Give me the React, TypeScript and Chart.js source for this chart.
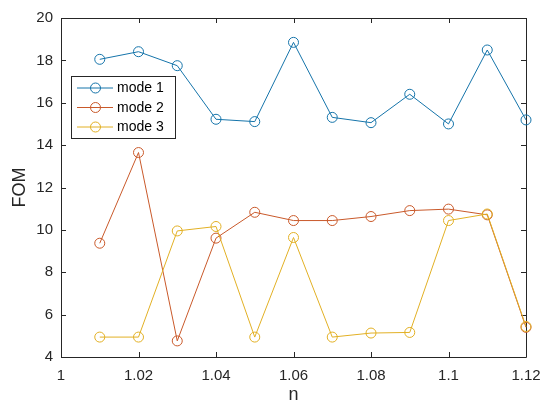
import { useEffect, useRef } from 'react';
import { Chart, registerables } from 'chart.js';

Chart.register(...registerables);

// Refractive index sweep and figure of merit per mode
const nValues = [1.01, 1.02, 1.03, 1.04, 1.05, 1.06, 1.07, 1.08, 1.09, 1.1, 1.11, 1.12];
const mode1 = [18.05, 18.41, 17.75, 15.22, 15.11, 18.85, 15.31, 15.06, 16.4, 15.0, 18.49, 15.19];
const mode2 = [9.37, 13.65, 4.76, 9.61, 10.83, 10.44, 10.44, 10.63, 10.91, 10.98, 10.71, 5.4];
const mode3 = [4.94, 4.94, 9.95, 10.16, 4.94, 9.64, 4.94, 5.13, 5.16, 10.44, 10.75, 5.44];

const seriesNames = ['mode 1', 'mode 2', 'mode 3'];
const seriesColors = ['#1574aa', '#c9592a', '#e2b024'];

const xTicks = [1, 1.02, 1.04, 1.06, 1.08, 1.1, 1.12];
const yTicks = [4, 6, 8, 10, 12, 14, 16, 18, 20];
const xTitle = 'n';
const yTitle = 'FOM';

const FONT = '"Liberation Sans", Arial, Helvetica, sans-serif';
const AXIS_COLOR = '#262626';

// Box around the axes with inward tick marks on all four sides
const axesFrame = {
  id: 'axesFrame',
  beforeDatasetsDraw(chart: any) {
    const { ctx, chartArea } = chart;
    const { left, right, top, bottom } = chartArea;
    const xs = chart.scales.x;
    const ys = chart.scales.y;
    const tl = 5;
    ctx.save();
    ctx.strokeStyle = AXIS_COLOR;
    ctx.lineWidth = 1;
    ctx.beginPath();
    ctx.rect(Math.round(left) + 0.5, Math.round(top) + 0.5, Math.round(right - left), Math.round(bottom - top));
    for (const v of xTicks) {
      const px = Math.round(xs.getPixelForValue(v)) + 0.5;
      ctx.moveTo(px, bottom);
      ctx.lineTo(px, bottom - tl);
      ctx.moveTo(px, top);
      ctx.lineTo(px, top + tl);
    }
    for (const v of yTicks) {
      const py = Math.round(ys.getPixelForValue(v)) + 0.5;
      ctx.moveTo(left, py);
      ctx.lineTo(left + tl, py);
      ctx.moveTo(right, py);
      ctx.lineTo(right - tl, py);
    }
    ctx.stroke();
    ctx.restore();
  },
};

// Legend box placed inside the upper-left part of the axes
const insideLegend = {
  id: 'insideLegend',
  afterDraw(chart: any) {
    const { ctx } = chart;
    const boxL = 71;
    const boxT = 76;
    const boxW = 104;
    const boxH = 62;
    const rowH = 19.5;
    ctx.save();
    ctx.fillStyle = '#ffffff';
    ctx.fillRect(boxL, boxT, boxW, boxH);
    ctx.strokeStyle = AXIS_COLOR;
    ctx.lineWidth = 1;
    ctx.strokeRect(boxL + 0.5, boxT + 0.5, boxW, boxH);
    chart.data.datasets.forEach((ds: any, i: number) => {
      const y = boxT + 12 + i * rowH;
      ctx.strokeStyle = ds.borderColor;
      ctx.lineWidth = 1;
      ctx.beginPath();
      ctx.moveTo(77, y);
      ctx.lineTo(113, y);
      ctx.stroke();
      ctx.beginPath();
      ctx.arc(95.5, y, 5, 0, Math.PI * 2);
      ctx.stroke();
      ctx.fillStyle = '#000000';
      ctx.font = `14px ${FONT}`;
      ctx.textAlign = 'left';
      ctx.textBaseline = 'middle';
      ctx.fillText(ds.label, 117, y + 0.5);
    });
    ctx.restore();
  },
};

export default function App() {
  const canvasRef = useRef<HTMLCanvasElement | null>(null);

  useEffect(() => {
    document.body.style.margin = '0';
    const canvas = canvasRef.current;
    if (!canvas) return;

    const series = [mode1, mode2, mode3];
    const datasets = series.map((vals, i) => ({
      label: seriesNames[i],
      data: nValues.map((n, k) => ({ x: n, y: vals[k] })),
      borderColor: seriesColors[i],
      backgroundColor: 'rgba(0,0,0,0)',
      pointBackgroundColor: 'rgba(0,0,0,0)',
      pointBorderColor: seriesColors[i],
      pointBorderWidth: 1,
      pointRadius: 5,
      pointStyle: 'circle',
      borderWidth: 1,
      tension: 0,
      fill: false,
      clip: false as any,
      order: 3 - i,
    }));

    const chart = new Chart(canvas, {
      type: 'line',
      data: { datasets },
      plugins: [axesFrame, insideLegend],
      options: {
        animation: false,
        responsive: false,
        devicePixelRatio: 1,
        layout: { padding: { top: 18, right: 16, left: 0, bottom: 0 } },
        plugins: {
          legend: { display: false },
          tooltip: { enabled: false },
        },
        scales: {
          x: {
            type: 'linear',
            min: 1,
            max: 1.12,
            afterBuildTicks: (scale: any) => {
              scale.ticks = xTicks.map((v) => ({ value: v }));
            },
            afterFit: (scale: any) => {
              scale.height = 45;
              scale.paddingLeft = 0;
              scale.paddingRight = 0;
            },
            grid: { display: false, drawTicks: false },
            border: { display: false },
            ticks: {
              padding: 10,
              autoSkip: false,
              maxRotation: 0,
              color: AXIS_COLOR,
              font: { family: FONT, size: 15 },
              callback: (v: any) => String(Number(Number(v).toFixed(2))),
            },
            title: {
              display: true,
              text: xTitle,
              color: AXIS_COLOR,
              font: { family: FONT, size: 18, lineHeight: 1 },
              padding: { top: 0, bottom: -2 },
            },
          },
          y: {
            type: 'linear',
            min: 4,
            max: 20,
            afterBuildTicks: (scale: any) => {
              scale.ticks = yTicks.map((v) => ({ value: v }));
            },
            afterFit: (scale: any) => {
              scale.width = 61;
              scale.paddingTop = 0;
              scale.paddingBottom = 0;
            },
            grid: { display: false, drawTicks: false },
            border: { display: false },
            ticks: {
              padding: 8,
              color: AXIS_COLOR,
              font: { family: FONT, size: 15 },
            },
            title: {
              display: true,
              text: yTitle,
              color: AXIS_COLOR,
              font: { family: FONT, size: 18, lineHeight: 1 },
              padding: { top: 11, bottom: 0 },
            },
          },
        },
      },
    });

    return () => chart.destroy();
  }, []);

  return (
    <div style={{ width: 542, height: 402, background: '#ffffff' }}>
      <canvas ref={canvasRef} width={542} height={402} style={{ display: 'block' }} />
    </div>
  );
}
